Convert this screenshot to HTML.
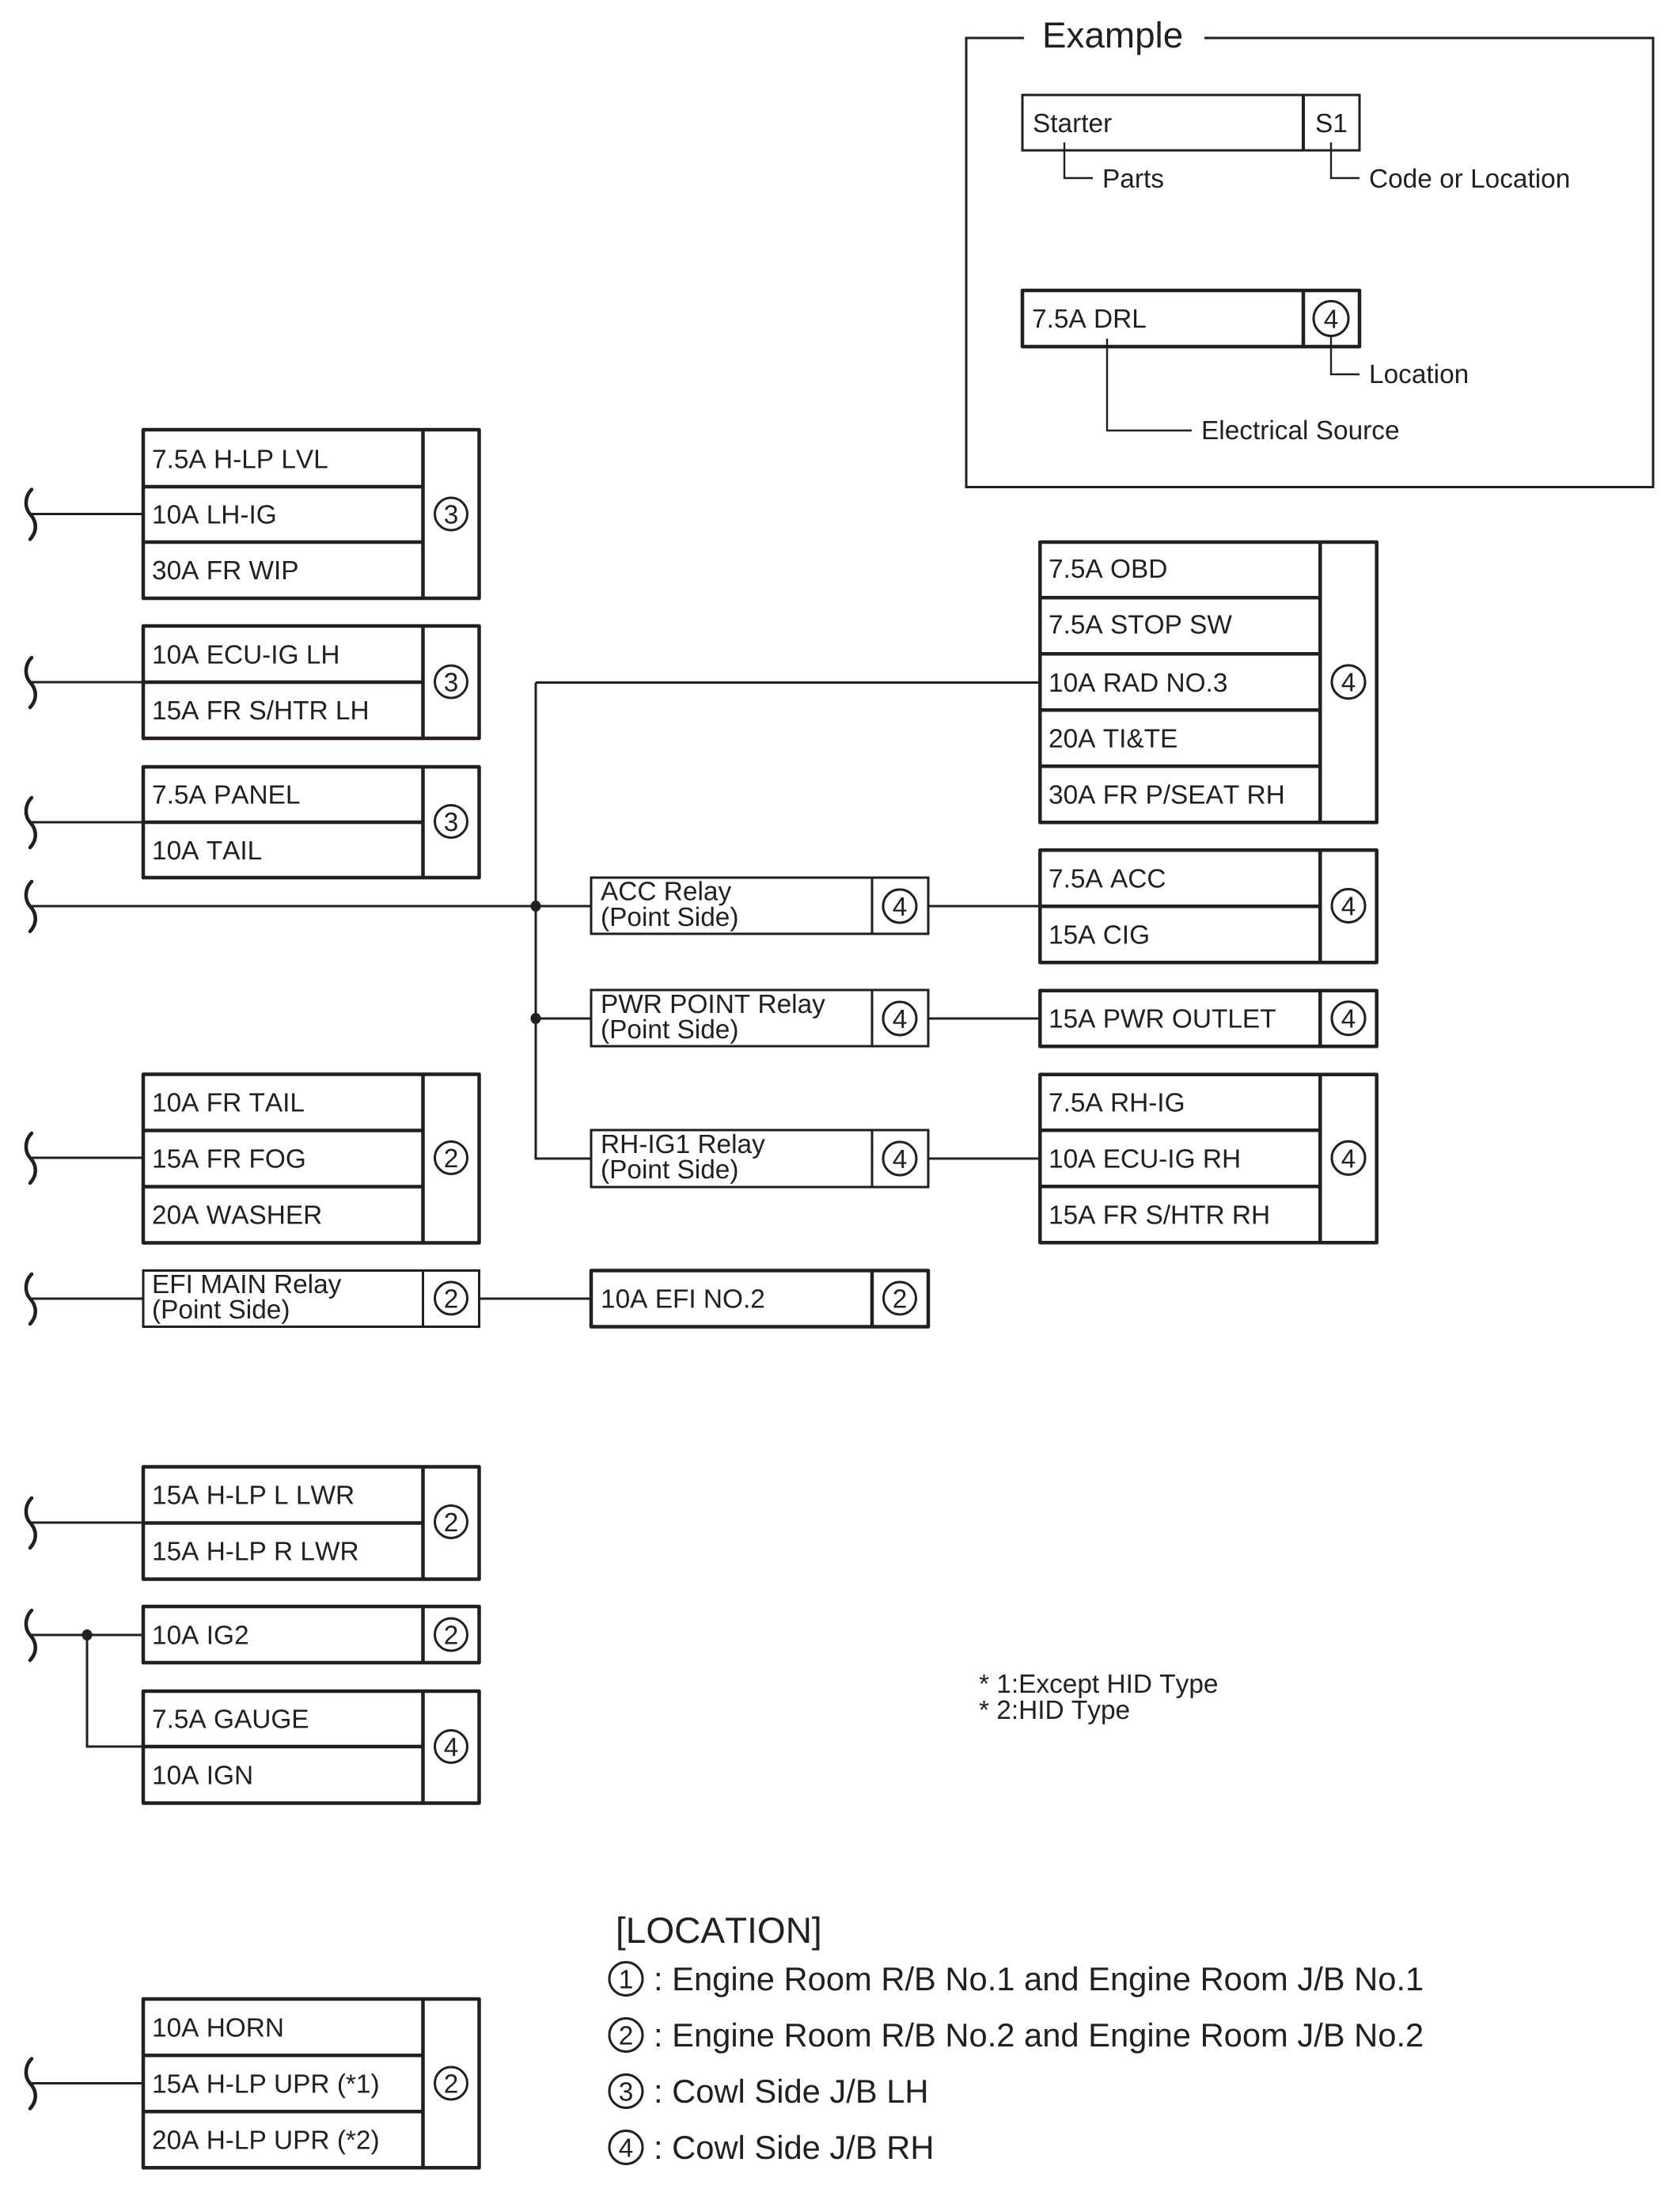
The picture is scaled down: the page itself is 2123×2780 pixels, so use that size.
<!DOCTYPE html>
<html><head><meta charset="utf-8"><style>
html,body{margin:0;padding:0;background:#fff}
svg{display:block}
text{font-family:"Liberation Sans",sans-serif;font-size:33.4px;fill:#231f20;font-kerning:none;text-rendering:geometricPrecision}
.c{text-anchor:middle}
.t{fill:none;stroke:#231f20;stroke-width:4.5;stroke-linejoin:round}
.m{fill:#fff;stroke:#231f20;stroke-width:3}
.l{fill:none;stroke:#231f20;stroke-width:3}
.n{fill:none;stroke:#231f20;stroke-width:2.4}
.o{fill:#fff;stroke:#231f20;stroke-width:3}
.s{fill:none;stroke:#231f20;stroke-width:4.5;stroke-linecap:round}
.d{fill:#231f20}
</style></head><body>
<svg xmlns="http://www.w3.org/2000/svg" width="2123" height="2780" viewBox="0 0 2123 2780">
<defs><path id="st" class="s" d="M40 -31C31 -22 31 -8 38 0C47 10 47 22 38 32"/></defs>
<rect width="2123" height="2780" fill="#fff"/>

<!-- Example frame -->
<path class="l" d="M1294 48H1221V615.5H2089V48H1522"/>
<text x="1317" y="60" style="font-size:45.8px">Example</text>
<rect class="m" x="1292" y="120" width="426" height="70"/><path class="l" style="stroke-width:4" d="M1647 120V190"/>
<text x="1305" y="167">Starter</text><text x="1662" y="167">S1</text>
<path class="n" d="M1345 180V225H1381M1682 180V225H1718"/>
<text x="1393" y="237">Parts</text><text x="1730" y="237">Code or Location</text>
<rect class="t" x="1292" y="367" width="426" height="71"/><path class="t" d="M1647 367V438"/>
<text x="1304" y="414">7.5A DRL</text>
<circle class="o" cx="1682" cy="402.5" r="22"/><text class="c" x="1682" y="414.5">4</text>
<path class="n" d="M1682 424.5V473H1718M1399 428V544H1506"/>
<text x="1730" y="484">Location</text><text x="1518" y="555">Electrical Source</text>

<!-- Connectors -->
<path class="l" d="M40 649.5H181M40 862H181M40 1039H181M40 1145H747M677 862.5H1314M677 862.5V1464H747M1173 1145H1314M1173 1287H1314M1173 1464H1314M677 1287H747M40 1463H181M40 1641H181M605 1641H747M40 1924H181M40 2066H181M110 2066V2207H181M40 2632.5H181"/>
<ellipse class="d" cx="677" cy="1145" rx="6.5" ry="7"/><ellipse class="d" cx="677" cy="1287" rx="6.5" ry="7"/><ellipse class="d" cx="110" cy="2066" rx="6.5" ry="7"/>
<use href="#st" y="649.5"/><use href="#st" y="862"/><use href="#st" y="1039"/><use href="#st" y="1145"/><use href="#st" y="1463"/><use href="#st" y="1641"/><use href="#st" y="1924"/><use href="#st" y="2066"/><use href="#st" y="2632.5"/>

<!-- Left boxes -->
<rect class="t" x="181" y="543" width="424.5" height="213"/><path class="t" d="M534.5 543V756M181 615H534.5M181 685H534.5"/>
<text x="192" y="591.5">7.5A H-LP LVL</text><text x="192" y="661.5">10A LH-IG</text><text x="192" y="732">30A FR WIP</text>
<circle class="o" cx="570" cy="649.5" r="20.5"/><text class="c" x="570" y="661.5">3</text>

<rect class="t" x="181" y="791" width="424.5" height="142"/><path class="t" d="M534.5 791V933M181 862H534.5"/>
<text x="192" y="838.5">10A ECU-IG LH</text><text x="192" y="909">15A FR S/HTR LH</text>
<circle class="o" cx="570" cy="861.5" r="20.5"/><text class="c" x="570" y="873.5">3</text>

<rect class="t" x="181" y="969" width="424.5" height="140"/><path class="t" d="M534.5 969V1109M181 1039H534.5"/>
<text x="192" y="1015.5">7.5A PANEL</text><text x="192" y="1086">10A TAIL</text>
<circle class="o" cx="570" cy="1038" r="20.5"/><text class="c" x="570" y="1050">3</text>

<rect class="t" x="181" y="1357.5" width="424.5" height="213"/><path class="t" d="M534.5 1357.5V1570.5M181 1428.5H534.5M181 1499.5H534.5"/>
<text x="192" y="1404.5">10A FR TAIL</text><text x="192" y="1475.5">15A FR FOG</text><text x="192" y="1546.5">20A WASHER</text>
<circle class="o" cx="570" cy="1463" r="20.5"/><text class="c" x="570" y="1475">2</text>

<rect class="m" x="181" y="1605.5" width="424.5" height="71"/><path class="l" d="M534.5 1605.5V1676.5"/>
<text x="192" y="1634">EFI MAIN Relay</text><text x="192" y="1666">(Point Side)</text>
<circle class="o" cx="570" cy="1640.5" r="20.5"/><text class="c" x="570" y="1652.5">2</text>

<rect class="t" x="747" y="1605.5" width="426" height="71"/><path class="t" d="M1102 1605.5V1676.5"/>
<text x="759" y="1652.5">10A EFI NO.2</text>
<circle class="o" cx="1137" cy="1640.5" r="20.5"/><text class="c" x="1137" y="1652.5">2</text>

<rect class="t" x="181" y="1853.5" width="424.5" height="142"/><path class="t" d="M534.5 1853.5V1995.5M181 1924.5H534.5"/>
<text x="192" y="1900.5">15A H-LP L LWR</text><text x="192" y="1971.5">15A H-LP R LWR</text>
<circle class="o" cx="570" cy="1923" r="20.5"/><text class="c" x="570" y="1935">2</text>

<rect class="t" x="181" y="2030" width="424.5" height="71"/><path class="t" d="M534.5 2030V2101"/>
<text x="192" y="2077.5">10A IG2</text>
<circle class="o" cx="570" cy="2065.5" r="20.5"/><text class="c" x="570" y="2077.5">2</text>

<rect class="t" x="181" y="2137" width="424.5" height="141.5"/><path class="t" d="M534.5 2137V2278.5M181 2207H534.5"/>
<text x="192" y="2183.5">7.5A GAUGE</text><text x="192" y="2254.5">10A IGN</text>
<circle class="o" cx="570" cy="2207" r="20.5"/><text class="c" x="570" y="2219">4</text>

<rect class="t" x="181" y="2526" width="424.5" height="213.3"/><path class="t" d="M534.5 2526V2739.3M181 2597.3H534.5M181 2668.3H534.5"/>
<text x="192" y="2573.5">10A HORN</text><text x="192" y="2644.5">15A H-LP UPR (*1)</text><text x="192" y="2715.5">20A H-LP UPR (*2)</text>
<circle class="o" cx="570" cy="2632.5" r="20.5"/><text class="c" x="570" y="2644.5">2</text>

<!-- Relays -->
<rect class="m" x="747" y="1109" width="426" height="71"/><path class="l" d="M1102 1109V1180"/>
<text x="759" y="1137.5">ACC Relay</text><text x="759" y="1170">(Point Side)</text>
<circle class="o" cx="1137" cy="1145" r="21"/><text class="c" x="1137" y="1157">4</text>

<rect class="m" x="747" y="1251" width="426" height="71"/><path class="l" d="M1102 1251V1322"/>
<text x="759" y="1280">PWR POINT Relay</text><text x="759" y="1312">(Point Side)</text>
<circle class="o" cx="1137" cy="1287" r="21"/><text class="c" x="1137" y="1299">4</text>

<rect class="m" x="747" y="1428" width="426" height="72"/><path class="l" d="M1102 1428V1500"/>
<text x="759" y="1457">RH-IG1 Relay</text><text x="759" y="1489">(Point Side)</text>
<circle class="o" cx="1137" cy="1464" r="21"/><text class="c" x="1137" y="1476">4</text>

<!-- Right boxes -->
<rect class="t" x="1314.3" y="685" width="425.4" height="354.3"/><path class="t" d="M1668.3 685V1039.3M1314.3 755.3H1668.3M1314.3 826.3H1668.3M1314.3 897.3H1668.3M1314.3 968.3H1668.3"/>
<text x="1325" y="730">7.5A OBD</text><text x="1325" y="800.5">7.5A STOP SW</text><text x="1325" y="874">10A RAD NO.3</text><text x="1325" y="944.5">20A TI&amp;TE</text><text x="1325" y="1015.5">30A FR P/SEAT RH</text>
<circle class="o" cx="1704" cy="861.7" r="21"/><text class="c" x="1704" y="873.7">4</text>

<rect class="t" x="1314.3" y="1074.3" width="425.4" height="142"/><path class="t" d="M1668.3 1074.3V1216.3M1314.3 1145.3H1668.3"/>
<text x="1325" y="1121.5">7.5A ACC</text><text x="1325" y="1192.5">15A CIG</text>
<circle class="o" cx="1704" cy="1144.5" r="21"/><text class="c" x="1704" y="1156.5">4</text>

<rect class="t" x="1314.3" y="1251.7" width="425.4" height="70.6"/><path class="t" d="M1668.3 1251.7V1322.3"/>
<text x="1325" y="1298.5">15A PWR OUTLET</text>
<circle class="o" cx="1704" cy="1286.7" r="21"/><text class="c" x="1704" y="1298.7">4</text>

<rect class="t" x="1314.3" y="1357.7" width="425.4" height="212.6"/><path class="t" d="M1668.3 1357.7V1570.3M1314.3 1428.3H1668.3M1314.3 1499.3H1668.3"/>
<text x="1325" y="1404.5">7.5A RH-IG</text><text x="1325" y="1475.5">10A ECU-IG RH</text><text x="1325" y="1546.5">15A FR S/HTR RH</text>
<circle class="o" cx="1704" cy="1463.3" r="21"/><text class="c" x="1704" y="1475.3">4</text>

<!-- Notes -->
<text x="1237" y="2139">* 1:Except HID Type</text>
<text x="1237" y="2172">* 2:HID Type</text>

<!-- Legend -->
<text x="778" y="2455" style="font-size:46px">[LOCATION]</text>
<circle class="o" cx="791" cy="2500.5" r="21"/><text class="c" x="791" y="2512.5">1</text>
<circle class="o" cx="791" cy="2571.5" r="21"/><text class="c" x="791" y="2583.5">2</text>
<circle class="o" cx="791" cy="2642.5" r="21"/><text class="c" x="791" y="2654.5">3</text>
<circle class="o" cx="791" cy="2713.5" r="21"/><text class="c" x="791" y="2725.5">4</text>
<text x="826" y="2515" style="font-size:41.7px">: Engine Room R/B No.1 and Engine Room J/B No.1</text>
<text x="826" y="2586" style="font-size:41.7px">: Engine Room R/B No.2 and Engine Room J/B No.2</text>
<text x="826" y="2657" style="font-size:41.7px">: Cowl Side J/B LH</text>
<text x="826" y="2728" style="font-size:41.7px">: Cowl Side J/B RH</text>
</svg>
</body></html>
